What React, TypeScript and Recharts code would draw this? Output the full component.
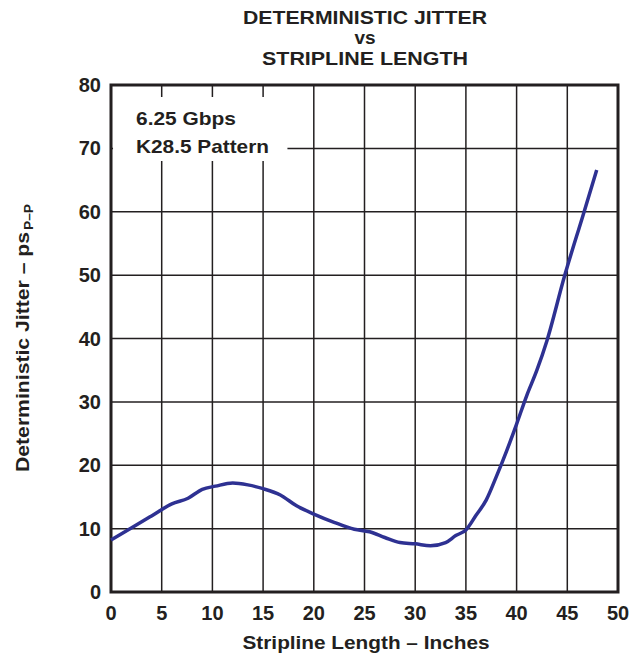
import React from "react";
import { LineChart, Line, XAxis, YAxis, CartesianGrid, ReferenceArea } from "recharts";

const lengthIn = [0, 2, 4, 6, 7.6, 9, 10.3, 12, 13.5, 15, 16.7, 18.3, 20, 22, 24, 25.5, 27, 28.5, 30, 31.5, 33, 34, 35, 36, 37, 38, 39, 40, 41, 42, 43, 44.7, 46.6, 47.9];
const jitterPs = [8.2, 10.1, 12.0, 13.9, 14.8, 16.2, 16.7, 17.2, 16.9, 16.3, 15.3, 13.6, 12.3, 11.0, 9.9, 9.5, 8.6, 7.8, 7.6, 7.3, 7.8, 8.9, 9.8, 12.1, 14.5, 18.2, 22.2, 26.5, 31.0, 35.0, 39.7, 49.7, 59.7, 66.6];
const xTicks = [0, 5, 10, 15, 20, 25, 30, 35, 40, 45, 50];
const yTicks = [0, 10, 20, 30, 40, 50, 60, 70, 80];
const titleLines = ["DETERMINISTIC JITTER", "vs", "STRIPLINE LENGTH"];
const legendLines = ["6.25 Gbps", "K28.5 Pattern"];
const xLabel = "Stripline Length \u2013 Inches";
const yLabelMain = "Deterministic Jitter \u2013 ps";
const yLabelSub = "P\u2013P";

const data = lengthIn.map((x, i) => ({ x, y: jitterPs[i] }));

const FONT = "'Liberation Sans', Arial, Helvetica, sans-serif";
const W = 637;
const H = 661;

export default function App() {
  const tickStyle = { fontSize: 20, fontWeight: 700, fill: "#231f20", fontFamily: FONT };
  return (
    <div style={{ position: "absolute", left: 0, top: 0, width: W, height: H, background: "#fff" }}>
      <LineChart width={W} height={H} data={data} margin={{ top: 85, right: 19, bottom: 39, left: 51 }}>
        <CartesianGrid stroke="#231f20" strokeWidth={1.5} horizontalValues={yTicks} verticalValues={xTicks} />
        <XAxis
          type="number"
          dataKey="x"
          domain={[0, 50]}
          ticks={xTicks}
          axisLine={false}
          tickLine={false}
          tickSize={0}
          tickMargin={14}
          tick={tickStyle}
          interval={0}
          height={30}
        />
        <YAxis
          type="number"
          domain={[0, 80]}
          ticks={yTicks}
          axisLine={false}
          tickLine={false}
          tickSize={0}
          tickMargin={10}
          tick={tickStyle}
          interval={0}
          width={60}
        />
        <ReferenceArea x1={0.2} x2={17.4} y1={68} y2={78.1} fill="#ffffff" fillOpacity={1} stroke="none" ifOverflow="visible" />
        <ReferenceArea x1={0} x2={50} y1={0} y2={80} fill="none" stroke="#231f20" strokeWidth={3} ifOverflow="visible" />
        <Line
          type="monotone"
          dataKey="y"
          stroke="#2e3192"
          strokeWidth={3.5}
          dot={false}
          isAnimationActive={false}
        />
      </LineChart>
      <svg width={W} height={H} style={{ position: "absolute", left: 0, top: 0, pointerEvents: "none" }}>
        <g fontFamily={FONT} fontWeight={700} fill="#231f20">
          <text x={365} y={24} textAnchor="middle" fontSize={19} textLength={244} lengthAdjust="spacingAndGlyphs">{titleLines[0]}</text>
          <text x={365} y={44} textAnchor="middle" fontSize={19}>{titleLines[1]}</text>
          <text x={365} y={65} textAnchor="middle" fontSize={19} textLength={206} lengthAdjust="spacingAndGlyphs">{titleLines[2]}</text>
          <text x={136} y={125} fontSize={19} textLength={100} lengthAdjust="spacingAndGlyphs">{legendLines[0]}</text>
          <text x={136} y={153} fontSize={19} textLength={133} lengthAdjust="spacingAndGlyphs">{legendLines[1]}</text>
          <text x={366} y={649} textAnchor="middle" fontSize={19} textLength={247} lengthAdjust="spacingAndGlyphs">{xLabel}</text>
          <g transform="translate(29,472) rotate(-90)">
            <text x={0} y={0} fontSize={19} textLength={240} lengthAdjust="spacingAndGlyphs">{yLabelMain}</text>
            <text x={242} y={4} fontSize={13} textLength={26} lengthAdjust="spacingAndGlyphs">{yLabelSub}</text>
          </g>
        </g>
      </svg>
    </div>
  );
}
